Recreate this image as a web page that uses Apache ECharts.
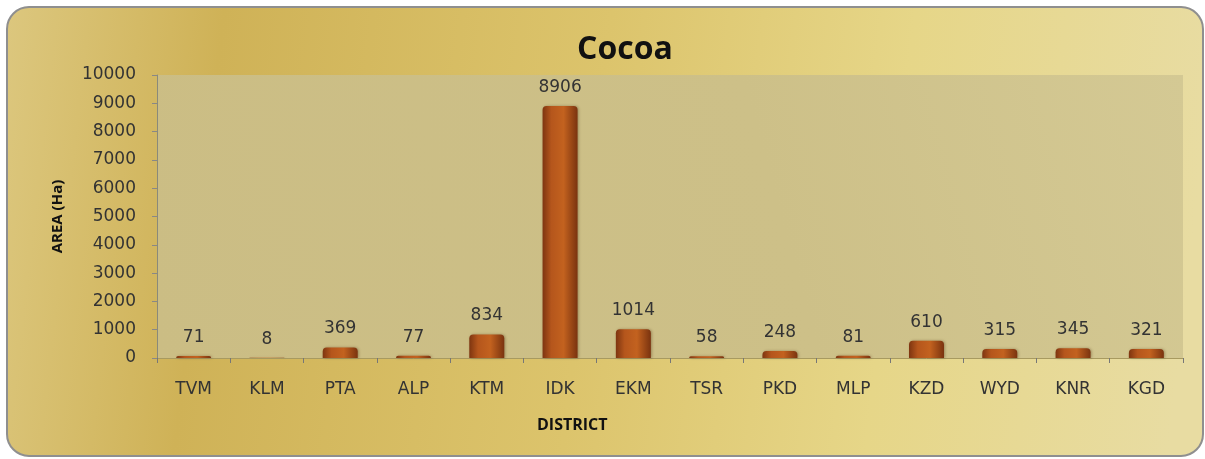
<!DOCTYPE html>
<html>
<head>
<meta charset="utf-8">
<script src="https://cdn.jsdelivr.net/npm/echarts@6/dist/echarts.min.js"></script>
<style>
  html, body { margin: 0; padding: 0; background: #fff; }
  #chart { width: 1205px; height: 459px; }
</style>
</head>
<body>
<div id="chart"></div>
<script>
// district codes and cocoa area (Ha)
var districts = ['TVM', 'KLM', 'PTA', 'ALP', 'KTM', 'IDK', 'EKM', 'TSR', 'PKD', 'MLP', 'KZD', 'WYD', 'KNR', 'KGD'];
var area = [71, 8, 369, 77, 834, 8906, 1014, 58, 248, 81, 610, 315, 345, 321];
var yTicks = [0, 1000, 2000, 3000, 4000, 5000, 6000, 7000, 8000, 9000, 10000];

var chart = echarts.init(document.getElementById('chart'));

var option = {
    backgroundColor: '#ffffff',
    graphic: [{
        type: 'rect',
        z: -10,
        shape: { x: 7, y: 7, width: 1196, height: 449, r: 22 },
        style: {
            fill: new echarts.graphic.LinearGradient(0, 0, 1, 0.3, [
                { offset: 0, color: '#dcc77e' },
                { offset: 0.18, color: '#cfb257' },
                { offset: 0.5, color: '#dcc46c' },
                { offset: 0.75, color: '#e6d688' },
                { offset: 1, color: '#e8dca2' }
            ]),
            stroke: '#8f8f8f',
            lineWidth: 2
        }
    }, {
        type: 'text',
        left: 537,
        top: 417,
        style: {
            text: 'DISTRICT',
            font: 'bold 16px "Open Sans"',
            fill: '#111'
        }
    }],
    title: {
        text: 'Cocoa',
        left: 620,
        textAlign: 'center',
        top: 29,
        textStyle: { fontFamily: 'Open Sans', fontWeight: 'bold', fontSize: 32, color: '#111' }
    },
    grid: {
        left: 157, right: 22, top: 75, bottom: 101,
        show: true,
        backgroundColor: new echarts.graphic.LinearGradient(0, 1, 1, 0, [
            { offset: 0, color: '#cbbd84' },
            { offset: 0.6, color: '#cdc088' },
            { offset: 1, color: '#d4c994' }
        ]),
        borderWidth: 0
    },
    xAxis: {
        type: 'category',
        data: districts,
        axisLine: { show: true, lineStyle: { color: '#a89a60', width: 1 } },
        axisTick: { show: true, length: 5, lineStyle: { color: '#777' } },
        axisLabel: { fontFamily: 'DejaVu Sans', fontSize: 17, color: '#333', margin: 23 }
    },
    yAxis: {
        type: 'value',
        min: 0,
        max: 10000,
        interval: 1000,
        name: 'AREA (Ha)',
        nameLocation: 'middle',
        nameRotate: 90,
        nameGap: 92,
        nameTextStyle: { fontFamily: 'Open Sans', fontWeight: 'bold', fontSize: 15, color: '#111' },
        axisLine: { show: true, lineStyle: { color: '#8a8a7a', width: 1 } },
        axisTick: { show: true, length: 5, lineStyle: { color: '#888' } },
        splitLine: { show: false },
        axisLabel: {
            fontFamily: 'DejaVu Sans', fontSize: 17, color: '#333', margin: 21,
            formatter: function (v) { return yTicks.indexOf(v) >= 0 ? String(v) : ''; }
        }
    },
    series: [{
        type: 'bar',
        data: area,
        barWidth: 35,
        itemStyle: {
            color: new echarts.graphic.LinearGradient(0, 0, 1, 0, [
                { offset: 0, color: '#7e3510' },
                { offset: 0.25, color: '#b5561c' },
                { offset: 0.6, color: '#c3621f' },
                { offset: 1, color: '#7a330f' }
            ]),
            borderRadius: [4, 4, 0, 0],
            shadowColor: 'rgba(60,30,0,0.35)',
            shadowBlur: 3,
            shadowOffsetX: 1
        },
        label: {
            show: true,
            position: 'top',
            distance: 10,
            fontFamily: 'DejaVu Sans',
            fontSize: 17,
            color: '#333'
        }
    }]
};

chart.setOption(option);
</script>
</body>
</html>
